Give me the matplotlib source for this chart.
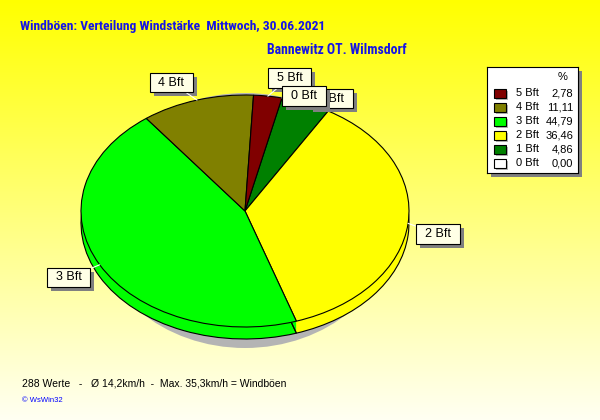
import numpy as np
import matplotlib
matplotlib.use("Agg")
import matplotlib.pyplot as plt
from matplotlib.path import Path

# ----data----
categories = ["0 Bft", "1 Bft", "2 Bft", "3 Bft", "4 Bft", "5 Bft"]
percent = [0.00, 4.86, 36.46, 44.79, 11.11, 2.78]
colors = ["#ffffff", "#008000", "#ffff00", "#00ff00", "#808000", "#800000"]
n_values = 288
avg_kmh = 14.2
max_kmh = 35.3
title = "Windböen: Verteilung Windstärke  Mittwoch, 30.06.2021"
station = "Bannewitz OT. Wilmsdorf"

# label box centres (figure pixels, from top) for each category
label_pos = {"0 Bft": (304, 96), "1 Bft": (331, 98.5), "2 Bft": (438, 234),
             "3 Bft": (68.5, 277.5), "4 Bft": (171.5, 82.5), "5 Bft": (289.5, 78)}

W, H = 600, 420
plt.rcParams["font.family"] = ["Liberation Sans", "DejaVu Sans"]
narrow = ["Roboto Condensed", "PT Sans Narrow", "Liberation Sans", "DejaVu Sans"]

fig = plt.figure(figsize=(W / 100, H / 100), dpi=100)

# ----background gradient----
bg = fig.add_axes([0, 0, 1, 1], zorder=-5)
grad = np.linspace(0, 1, 256)[:, None]
img = np.ones((256, 2, 3))
img[:, :, 2] = 0.95 * grad * np.ones((1, 2))
bg.imshow(img, aspect="auto", extent=[0, 1, 0, 1], origin="upper")
bg.axis("off")


def px_rect(x0, y0, x1, y1):
    return [x0 / W, (H - y1) / H, (x1 - x0) / W, (y1 - y0) / H]


# ----pie----
cx, cy, rx, ry = 245, 211, 164, 116
ax0, ay0, ax1, ay1 = 70, 85, 420, 360
ax = fig.add_axes(px_rect(ax0, ay0, ax1, ay1), zorder=1)

shadow = matplotlib.patches.Ellipse((0, -9.5 / ry), 2 * 150 / rx, 2 * 127.5 / ry,
                                    facecolor="#b4b4b4", edgecolor="none")
ax.add_patch(shadow)

depth = 12
for k in range(depth, 0, -1):
    ax.pie(percent, colors=colors, startangle=77, counterclock=False,
           center=(0, -k / ry), wedgeprops=dict(edgecolor="none", linewidth=0))
# outline of the bottom rim
ax.pie(percent, colors=["none"] * len(percent), startangle=77, counterclock=False,
       center=(0, -depth / ry), wedgeprops=dict(edgecolor="black", linewidth=0.8))
wedges, _ = ax.pie(percent, colors=colors, startangle=77, counterclock=False,
                   wedgeprops=dict(edgecolor="black", linewidth=0.8))

ax.set_aspect("auto")
ax.set_xlim(-1 - (cx - rx - ax0) / rx, 1 + (ax1 - cx - rx) / rx)
ax.set_ylim(-(ay1 - cy) / ry, (cy - ay0) / ry)
ax.axis("off")


# label box: wide horizontal padding, tighter vertical padding
def label_box(x0, y0, width, height, mutation_size):
    px, py = 0.7 * mutation_size, 0.3 * mutation_size
    x0, y0 = x0 - px, y0 - py
    x1, y1 = x0 + width + 2 * px, y0 + height + 2 * py
    return Path([(x0, y0), (x1, y0), (x1, y1), (x0, y1), (x0, y0)], closed=True)


# ----slice labels----
order = [5, 4, 3, 2, 1, 0]
for z, i in enumerate(order):
    w = wedges[i]
    mid = np.deg2rad((w.theta1 + w.theta2) / 2)
    xy = (np.cos(mid), np.sin(mid))
    lx, ly = label_pos[categories[i]]
    ax.annotate(categories[i], xy=(0, 0), xytext=(lx + 4, H - ly - 4),
                textcoords="figure pixels", ha="center", va="center",
                fontsize=9, color="none", annotation_clip=False, zorder=10 + 2 * z,
                bbox=dict(boxstyle=label_box, facecolor="#808080", edgecolor="none"))
    ax.annotate(categories[i], xy=xy, xytext=(lx, H - ly),
                textcoords="figure pixels", ha="center", va="center",
                fontsize=9, color="black", annotation_clip=False, zorder=11 + 2 * z,
                bbox=dict(boxstyle=label_box, facecolor="#ffffe6", edgecolor="black", linewidth=0.8),
                arrowprops=dict(arrowstyle="-", color="white", lw=0.8, shrinkA=0, shrinkB=0))

# ----legend box----
lx0, ly0, lx1, ly1 = 487, 67, 578, 173
sh = fig.add_axes(px_rect(lx0 + 4, ly0 + 4, lx1 + 4, ly1 + 4), zorder=2)
sh.set_facecolor("#808080")
sh.set_xticks([]); sh.set_yticks([])
for s in sh.spines.values():
    s.set_visible(False)

lg = fig.add_axes(px_rect(lx0, ly0, lx1, ly1), zorder=3)
lg.set_facecolor("white")
lg.set_xlim(0, lx1 - lx0); lg.set_ylim(ly1 - ly0, 0)
lg.set_xticks([]); lg.set_yticks([])
for s in lg.spines.values():
    s.set_linewidth(0.8)
lg.text(76, 10, "%", ha="center", va="center", fontsize=8)
for r, i in enumerate(reversed(range(len(categories)))):
    yy = 26 + 14 * r
    lg.add_patch(matplotlib.patches.Rectangle((9, yy - 2.5), 12, 9, facecolor="#b4b4b4", edgecolor="none"))
    lg.add_patch(matplotlib.patches.Rectangle((7, yy - 4.5), 12, 9, facecolor=colors[i], edgecolor="black", linewidth=0.8))
    lg.text(29, yy, categories[i], ha="left", va="center", fontsize=8)
    lg.text(86, yy, f"{percent[i]:.2f}".replace(".", ","), ha="right", va="center", fontsize=8)

# ----texts----
fig.text(20 / W, 1 - 30 / H, title, fontsize=9.7, fontweight="bold", color="#1414e6",
         family=narrow, va="baseline")
fig.text(267 / W, 1 - 54 / H, station, fontsize=9.9, fontweight="bold", color="#1414e6",
         family=narrow, va="baseline")
avg_s = f"{avg_kmh:.1f}".replace(".", ",")
max_s = f"{max_kmh:.1f}".replace(".", ",")
footer = f"{n_values} Werte   -   Ø {avg_s}km/h  -  Max. {max_s}km/h = Windböen"
fig.text(22 / W, 1 - 387 / H, footer, fontsize=7.5, color="black", va="baseline")
fig.text(22 / W, 1 - 402 / H, "© WsWin32", fontsize=5.5, color="#0000ff", va="baseline")

fig.savefig("out.png", dpi=100)
